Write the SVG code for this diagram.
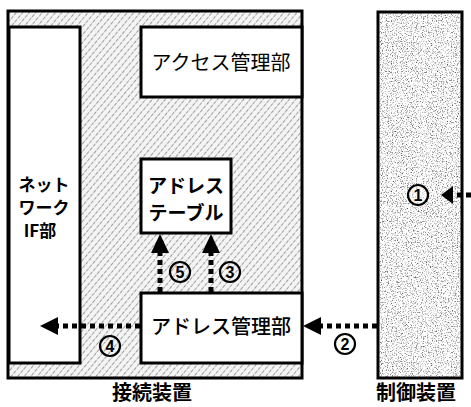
<svg xmlns="http://www.w3.org/2000/svg" width="471" height="407" viewBox="0 0 471 407">
<style>
.box{fill:#fff;stroke:#000;stroke-width:3}
.t{font-family:"Noto Sans CJK JP","Noto Sans",sans-serif;fill:#000;text-anchor:middle}
.b{font-weight:bold}
.dl{stroke:#000;stroke-width:5;stroke-dasharray:5 4;fill:none}
.c{fill:none;stroke:#000;stroke-width:2.2}
.n{font-family:"Liberation Sans",Arial,sans-serif;font-size:16px;font-weight:bold;text-anchor:middle;fill:#000}
</style>
<defs>
<pattern id="hatch" width="5" height="5" patternUnits="userSpaceOnUse" patternTransform="rotate(40)">
<rect width="5" height="5" fill="#f4f4f4"/>
<line x1="0" y1="0" x2="0" y2="5" stroke="#555" stroke-width="1.1" stroke-dasharray="2.5 1.2"/>
</pattern>
<filter id="noise" x="0" y="0" width="100%" height="100%">
<feTurbulence type="fractalNoise" baseFrequency="0.8" numOctaves="3" seed="5" result="n"/>
<feColorMatrix in="n" type="matrix" values="0 0 0 0 0  0 0 0 0 0  0 0 0 0 0  0 0 0 -2.8 1.4" result="a"/>
<feComposite in="a" in2="SourceGraphic" operator="in"/>
</filter>
</defs>

<g id="connection-device">
<rect x="8" y="11" width="294" height="367" fill="url(#hatch)" stroke="#000" stroke-width="3"/>
<text class="t b" x="152" y="400" font-size="20">接続装置</text>
</g>

<g id="control-device">
<rect x="378" y="12" width="84" height="366" fill="#fff"/>
<rect x="378" y="12" width="84" height="366" fill="#000" opacity="0.65" filter="url(#noise)"/>
<rect x="378" y="12" width="84" height="366" fill="none" stroke="#000" stroke-width="3"/>
<text class="t b" x="416" y="400" font-size="20">制御装置</text>
</g>

<g id="network-if">
<rect class="box" x="9" y="27" width="71" height="336"/>
<text class="t b" x="44" y="191" font-size="17">ネット</text>
<text class="t b" x="44" y="214" font-size="17">ワーク</text>
<text class="t b" x="40" y="237" font-size="17">IF部</text>
</g>

<g id="access-mgmt">
<rect class="box" x="141" y="27" width="161" height="70"/>
<text class="t" x="221" y="70" font-size="20">アクセス管理部</text>
</g>

<g id="address-table">
<rect class="box" x="141" y="159" width="90" height="74"/>
<text class="t b" x="186" y="193" font-size="19">アドレス</text>
<text class="t b" x="186" y="220" font-size="19">テーブル</text>
</g>

<g id="address-mgmt">
<rect class="box" x="141" y="293" width="161" height="70"/>
<text class="t" x="221" y="334" font-size="20" font-weight="500">アドレス管理部</text>
</g>

<g id="connectors">
<line class="dl" x1="140" y1="326" x2="58" y2="326"/>
<path d="M40,326 L58,317 L58,335 z"/>
<line class="dl" x1="377" y1="326" x2="320" y2="326"/>
<path d="M303,326 L321,317 L321,335 z"/>
<line class="dl" x1="160" y1="292" x2="160" y2="252"/>
<path d="M160,234 L151,253 L169,253 z"/>
<line class="dl" x1="211" y1="292" x2="211" y2="252"/>
<path d="M211,234 L202,253 L220,253 z"/>
<line class="dl" x1="471" y1="195" x2="452" y2="195"/>
<path d="M441,195 L453,186 L453,204 z"/>
</g>

<g id="labels">
<g id="lbl1"><circle cx="418" cy="195" r="10" fill="#fff" fill-opacity="0.5" stroke="#000" stroke-width="2.2"/><text class="n" x="418" y="201">1</text></g>
<g id="lbl2"><circle class="c" cx="345" cy="344" r="10"/><text class="n" x="345" y="350">2</text></g>
<g id="lbl3"><circle class="c" cx="230" cy="272" r="10"/><text class="n" x="230" y="278">3</text></g>
<g id="lbl4"><circle class="c" cx="110" cy="346" r="10"/><text class="n" x="110" y="352">4</text></g>
<g id="lbl5"><circle class="c" cx="180" cy="272" r="10"/><text class="n" x="180" y="278">5</text></g>
</g>
</svg>
